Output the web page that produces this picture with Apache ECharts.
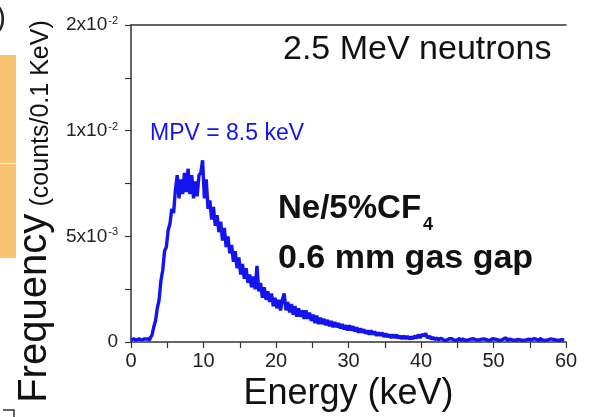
<!doctype html>
<html>
<head>
<meta charset="UTF-8">
<title>Energy spectrum</title>
<script src="https://cdn.jsdelivr.net/npm/echarts@6/dist/echarts.min.js"></script>
<style>
	html, body { margin: 0; padding: 0; background: #ffffff; }
	#main { width: 592px; height: 417px; }
</style>
</head>
<body>
<div id="main"></div>
<script type="text/javascript">
	// histogram, one value per 0.25 keV bin, in units of 10^-3 counts/0.1 keV
	var binWidth = 0.25;
	var freqE3 = [
		0.1, 0.15, 0.1, 0.1, 0.15, 0.1, 0.1, 0.15,          // 0-2 keV
		0.1, 0.15, 0.1, 0.2, 0.3, 0.7, 1.0, 1.6,             // 2-4
		2.0, 2.9, 3.4, 4.3, 4.5, 5.3, 5.6, 6.3,              // 4-6
		6.1, 7.2, 7.9, 6.8, 7.7, 7.0, 8.0, 7.1,              // 6-8
		8.2, 7.0, 7.9, 6.8, 7.6, 6.9, 7.9, 8.0,              // 8-10
		8.6, 6.8, 7.7, 6.3, 6.7, 5.8, 6.4, 5.5,              // 10-12
		6.0, 5.2, 5.7, 4.8, 5.4, 4.5, 5.0, 4.2,              // 12-14
		4.6, 3.8, 4.3, 3.5, 4.0, 3.2, 3.7, 3.0,              // 14-16
		3.5, 2.8, 3.2, 2.6, 3.1, 2.5, 3.6, 2.4,              // 16-18
		2.8, 2.1, 2.6, 2.0, 2.4, 1.9, 2.3, 1.7,              // 18-20
		2.1, 1.6, 2.0, 1.5, 2.0, 2.3, 1.5, 1.9,              // 20-22
		1.4, 1.8, 1.3, 1.7, 1.2, 1.6, 1.2, 1.5,              // 22-24
		1.1, 1.5, 1.1, 1.4, 1.0, 1.3, 0.9, 1.25,             // 24-26
		0.85, 1.15, 0.85, 1.1, 0.8, 1.05, 0.75, 1.0,         // 26-28
		0.7, 0.95, 0.7, 0.9, 0.65, 0.85, 0.6, 0.8,           // 28-30
		0.55, 0.8, 0.55, 0.75, 0.5, 0.7, 0.45, 0.65,         // 30-32
		0.45, 0.6, 0.4, 0.55, 0.35, 0.55, 0.35, 0.5,         // 32-34
		0.3, 0.45, 0.3, 0.45, 0.25, 0.4, 0.25, 0.35,         // 34-36
		0.2, 0.35, 0.2, 0.35, 0.18, 0.3, 0.15, 0.3,          // 36-38
		0.15, 0.28, 0.14, 0.25, 0.15, 0.3, 0.18, 0.35,       // 38-40
		0.2, 0.35, 0.3, 0.42, 0.2, 0.28, 0.15, 0.22,         // 40-42
		0.12, 0.2, 0.1, 0.18, 0.1, 0.17, 0.08, 0.16,         // 42-44
		0.1, 0.16, 0.08, 0.15, 0.1, 0.18, 0.08, 0.14,        // 44-46
		0.08, 0.15, 0.1, 0.14, 0.08, 0.16, 0.1, 0.12,        // 46-48
		0.1, 0.14, 0.08, 0.15, 0.1, 0.13, 0.08, 0.16,        // 48-50
		0.08, 0.14, 0.1, 0.12, 0.08, 0.15, 0.1, 0.2,         // 50-52
		0.08, 0.14, 0.1, 0.15, 0.08, 0.13, 0.22, 0.1,        // 52-54
		0.08, 0.15, 0.1, 0.14, 0.08, 0.12, 0.16, 0.08,       // 54-56
		0.12, 0.08, 0.18, 0.1, 0.08, 0.14, 0.1, 0.15,        // 56-58
		0.08, 0.13, 0.1, 0.15, 0.08, 0.12, 0.14, 0.1         // 58-60
	];

	// y tick labels as printed (value in 10^-3 units -> mantissa + exponent)
	var yTickValues = [0, 5, 10, 15];
	var yTickBase = ['0', '5x10', '1x10', '2x10'];
	var yTickExp = ['', '-3', '-2', '-2'];

	var font = '"Liberation Sans", Arial, sans-serif';
	var blue = '#1414ee';

	var seriesData = [];
	for (var i = 0; i < freqE3.length; i++) {
		seriesData.push([i * binWidth, freqE3[i]]);
	}

	var myChart = echarts.init(document.getElementById('main'));
	var option = {
		backgroundColor: '#ffffff',
		animation: false,
		grid: {
			left: 131,
			right: 26,
			top: 25,
			bottom: 73
		},
		xAxis: [{
			type: 'value',
			min: 0,
			max: 60,
			interval: 10,
			name: 'Energy (keV)',
			nameLocation: 'middle',
			nameGap: 29,
			nameTextStyle: {
				fontFamily: font,
				fontSize: 36,
				color: '#111'
			},
			axisLine: { show: true, lineStyle: { color: '#333', width: 1.5 } },
			axisTick: { show: true, length: 6, lineStyle: { color: '#333', width: 1.2 } },
			minorTick: { show: true, splitNumber: 2, length: 6, lineStyle: { color: '#333', width: 1.2 } },
			axisLabel: {
				margin: 9,
				fontFamily: font,
				fontSize: 20,
				color: '#222'
			},
			splitLine: { show: false }
		}, {
			// top frame line only
			type: 'value',
			position: 'top',
			min: 0,
			max: 60,
			axisLine: { show: true, onZero: false, lineStyle: { color: '#333', width: 1.5 } },
			axisTick: { show: false },
			axisLabel: { show: false },
			splitLine: { show: false }
		}],
		yAxis: [{
			type: 'value',
			min: 0,
			max: 15,
			interval: 5,
			name: '{a|Frequency} {b|(counts/0.1 KeV)}',
			nameLocation: 'middle',
			nameRotate: 90,
			nameGap: 66,
			nameTextStyle: {
				padding: [0, 56, 0, 0],
				rich: {
					a: { fontFamily: font, fontSize: 40, color: '#111', verticalAlign: 'bottom' },
					b: { fontFamily: font, fontSize: 25, color: '#111', verticalAlign: 'bottom', padding: [0, 0, 2, 4] }
				}
			},
			axisLine: { show: true, lineStyle: { color: '#333', width: 1.5 } },
			axisTick: { show: true, length: 6, lineStyle: { color: '#333', width: 1.2 } },
			minorTick: { show: true, splitNumber: 2, length: 6, lineStyle: { color: '#333', width: 1.2 } },
			axisLabel: {
				margin: 13,
				formatter: function (val) {
					var k = yTickValues.indexOf(val);
					if (k < 0) return '';
					if (yTickExp[k] === '') return '{m|' + yTickBase[k] + '}';
					return '{m|' + yTickBase[k] + '}{s|' + yTickExp[k] + '}';
				},
				rich: {
					m: { fontFamily: font, fontSize: 19, color: '#222' },
					s: { fontFamily: font, fontSize: 11, color: '#222', verticalAlign: 'top', padding: [0, 0, 0, 1] }
				}
			},
			splitLine: { show: false }
		}],
		series: [{
			name: 'Ne/5%CF4',
			type: 'line',
			step: 'middle',
			symbol: 'none',
			data: seriesData,
			lineStyle: { color: blue, width: 3.4 }
		}],
		graphic: [
			// orange boxes at the left edge
			{ type: 'rect', shape: { x: 0, y: 55, width: 16, height: 108 }, style: { fill: '#f9c372' } },
			{ type: 'rect', shape: { x: 0, y: 164, width: 16, height: 94 }, style: { fill: '#f9c372' } },
			{ type: 'text', x: -4, y: 19, style: { text: ')', font: '30px ' + font, fill: '#222', verticalAlign: 'middle' } },
			{ type: 'polyline', shape: { points: [[3, 410], [14, 410], [14, 417]] }, style: { stroke: '#333', lineWidth: 1.5, fill: null } },
			{ type: 'text', x: 283, y: 50, style: { text: '2.5 MeV neutrons', font: '34px ' + font, fill: '#111', verticalAlign: 'middle' } },
			{ type: 'text', x: 150, y: 134, style: { text: 'MPV = 8.5 keV', font: '23px ' + font, fill: blue, verticalAlign: 'middle' } },
			{ type: 'text', x: 278, y: 209, style: { text: 'Ne/5%CF', font: 'bold 33px ' + font, fill: '#111', verticalAlign: 'middle' } },
			{ type: 'text', x: 423, y: 225, style: { text: '4', font: 'bold 18px ' + font, fill: '#111', verticalAlign: 'middle' } },
			{ type: 'text', x: 278, y: 259, style: { text: '0.6 mm gas gap', font: 'bold 34px ' + font, fill: '#111', verticalAlign: 'middle' } }
		]
	};
	myChart.setOption(option);
</script>
</body>
</html>
